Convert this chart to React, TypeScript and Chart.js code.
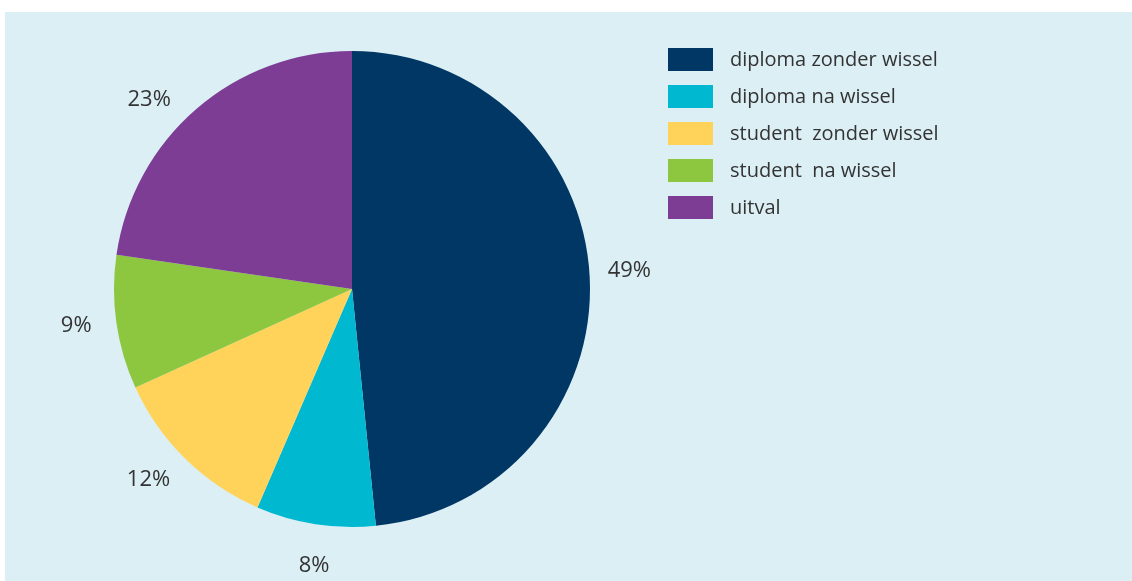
import React, { useEffect, useRef } from "react";
import { Chart, registerables } from "chart.js";

Chart.register(...registerables);

const categories = [
  "diploma zonder wissel",
  "diploma na wissel",
  "student  zonder wissel",
  "student  na wissel",
  "uitval",
];
const values = [48.4, 8.1, 11.7, 9.1, 22.7];
const percentLabels = ["49%", "8%", "12%", "9%", "23%"];
const colors = ["#003764", "#00b8cf", "#ffd35a", "#8dc63f", "#7d3d95"];
// small angular nudges (degrees) of the outside labels, as placed in the original
const labelAngleNudge = [-1, -1, 2.6, 0.8, -6];

const FONT = "'Open Sans', 'DejaVu Sans', sans-serif";
const TEXT = "#333333";

const labelPlugin = {
  id: "outerLabels",
  afterDraw(chart: any) {
    const ctx = chart.ctx;
    const meta = chart.getDatasetMeta(0);
    ctx.save();
    ctx.font = `22px ${FONT}`;
    ctx.fillStyle = TEXT;
    ctx.textAlign = "center";
    ctx.textBaseline = "middle";
    meta.data.forEach((arc: any, i: number) => {
      const { x, y, startAngle, endAngle, outerRadius } = arc.getProps(
        ["x", "y", "startAngle", "endAngle", "outerRadius"],
        true
      );
      const mid = (startAngle + endAngle) / 2 + (labelAngleNudge[i] * Math.PI) / 180;
      const r = outerRadius + 40;
      ctx.fillText(percentLabels[i], x + Math.cos(mid) * r, y + Math.sin(mid) * r + 1);
    });
    // legend
    const lx = 663;
    const ly = 36;
    const step = 37;
    ctx.font = `20px ${FONT}`;
    ctx.textAlign = "left";
    categories.forEach((c, i) => {
      ctx.fillStyle = colors[i];
      ctx.fillRect(lx, ly + i * step, 45, 23);
      ctx.fillStyle = TEXT;
      ctx.fillText(c, lx + 62, ly + i * step + 12);
    });
    ctx.restore();
  },
};

export default function App() {
  const ref = useRef<HTMLCanvasElement | null>(null);
  useEffect(() => {
    if (!ref.current) return;
    const chart = new Chart(ref.current, {
      type: "pie",
      data: {
        labels: categories,
        datasets: [
          {
            data: values,
            backgroundColor: colors,
            borderWidth: 0,
          },
        ],
      },
      options: {
        animation: false,
        responsive: false,
        maintainAspectRatio: false,
        layout: { padding: { left: 109, top: 39, right: 542, bottom: 54 } },
        plugins: {
          legend: { display: false },
          tooltip: { enabled: false },
        },
      },
      plugins: [labelPlugin],
    });
    return () => chart.destroy();
  }, []);
  return (
    <div
      style={{
        position: "absolute",
        left: 5,
        top: 12,
        width: 1127,
        height: 569,
        background: "#dbeff5",
      }}
    >
      <canvas ref={ref} width={1127} height={569} style={{ display: "block" }} />
    </div>
  );
}
